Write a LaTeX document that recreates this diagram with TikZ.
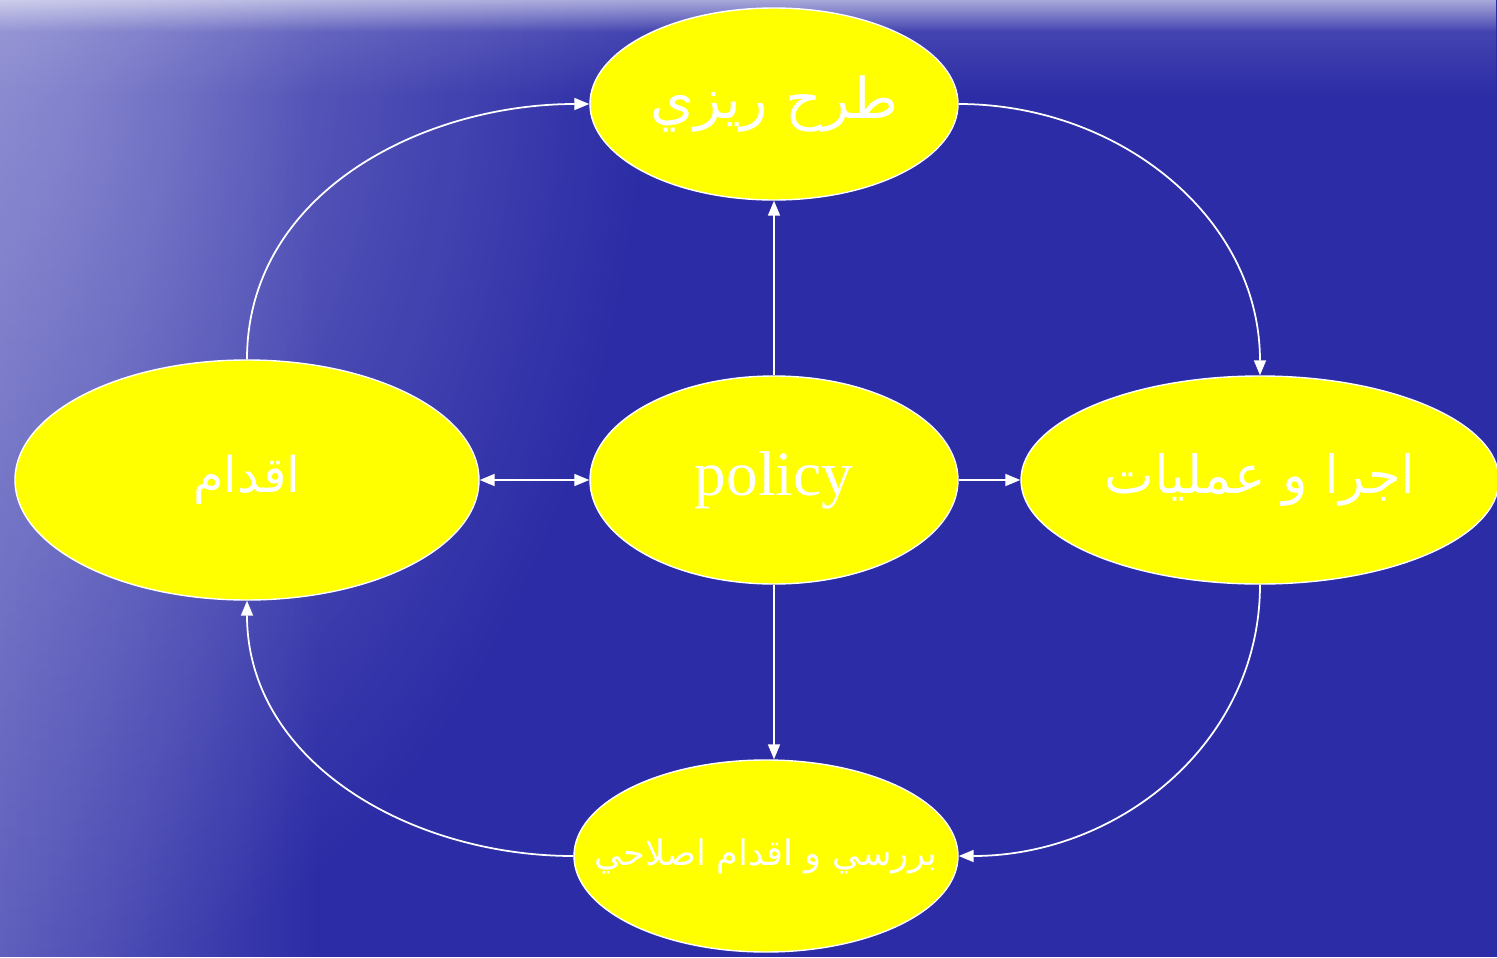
\documentclass[tikz,border=0pt]{standalone}
\usepackage{fontspec}
\setmainfont{Liberation Serif}
\newfontfamily\arabicfont[Script=Arabic]{DejaVu Sans}
\TeXXeTstate=1
\usetikzlibrary{shapes.geometric,arrows.meta,fadings}

\definecolor{sea}{RGB}{44,44,166}
\definecolor{seglow}{RGB}{185,185,230}
\definecolor{bubble}{RGB}{255,255,0}

\tikzfading[name=glowfade, left color=transparent!0, right color=transparent!100]
\tikzfading[name=skyfade, top color=transparent!0, bottom color=transparent!100]
\tikzfading[name=cornerfade, inner color=transparent!0, outer color=transparent!100]

\tikzset{
  bubble/.style={ellipse, fill=bubble, draw=white, line width=0.4pt,
    inner sep=0pt, text=white},
  link/.style={draw=white, line width=0.5pt,
    -{Triangle[length=0.15cm,width=0.12cm]}},
}

\begin{document}
\begin{tikzpicture}
  \useasboundingbox (0,0) rectangle (14.97,9.57);
  % sea backdrop
  \begin{scope}
    \clip (0,0) rectangle (14.97,9.57);
    \fill [sea] (0,0) rectangle (14.97,9.57);
    \fill [seglow, opacity=0.35, path fading=glowfade] (0,0) rectangle (3.2,9.57);
    \fill [seglow, opacity=0.55, path fading=cornerfade] (0,9.57) ellipse (6.5 and 10);
    \fill [seglow, opacity=0.25, path fading=skyfade] (0,8.6) rectangle (14.97,9.57);
    \fill [white, opacity=0.5, path fading=skyfade] (0,9.25) rectangle (14.97,9.57);
  \end{scope}

  \node [bubble, minimum width=3.68cm, minimum height=2.08cm] (P) at (7.74,4.77)
    {\fontsize{18}{18}\selectfont policy};
  \node [bubble, minimum width=3.68cm, minimum height=1.92cm] (T) at (7.74,8.53)
    {\fontsize{16}{16}\selectfont\arabicfont\beginR طرح ريزي\endR};
  \node [bubble, minimum width=4.78cm, minimum height=2.08cm] (R) at (12.60,4.77)
    {\fontsize{15}{15}\selectfont\arabicfont\beginR اجرا و عمليات\endR};
  \node [bubble, inner xsep=-0.5cm, minimum width=3.84cm, minimum height=1.92cm] (B) at (7.66,1.01)
    {\fontsize{10}{10}\selectfont\arabicfont\beginR بررسي و اقدام اصلاحي\endR};
  \node [bubble, minimum width=4.64cm, minimum height=2.40cm] (L) at (2.47,4.77)
    {\fontsize{14}{14}\selectfont\arabicfont\beginR اقدام\endR};

  \draw [link] (P.north) -- (T.south);
  \draw [link] (P.south) -- (P.south |- B.north);
  \draw [link] (P.east) -- (R.west);
  \draw [link, {Triangle[length=0.15cm,width=0.12cm]}-{Triangle[length=0.15cm,width=0.12cm]}] (L.east) -- (P.west);

  % the outer cycle
  \draw [link] (T.east) to [out=0,in=90] (R.north);
  \draw [link] (R.south) to [out=-90,in=0] (B.east);
  \draw [link] (B.west) to [out=180,in=-90] (L.south);
  \draw [link] (L.north) to [out=90,in=180] (T.west);
\end{tikzpicture}
\end{document}
